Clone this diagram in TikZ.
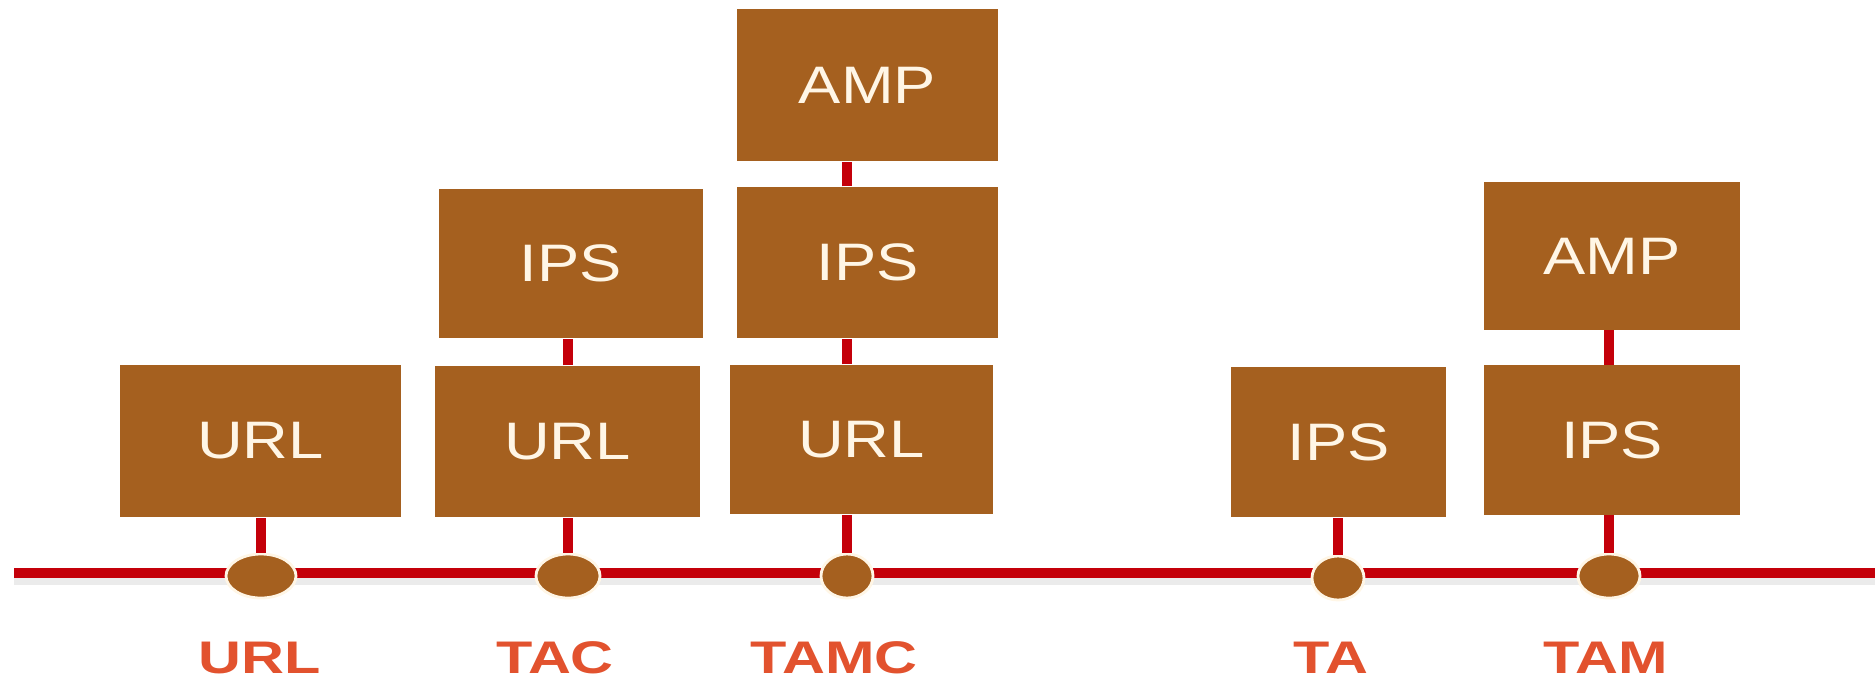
\documentclass[tikz,border=0pt]{standalone}
\usepackage{fontspec}
\usepackage{graphicx}
\usetikzlibrary{shapes.geometric}
\setmainfont{Liberation Sans}
\newcommand{\wideby}[2]{\scalebox{#1}[1]{#2}}
\definecolor{boxbrown}{RGB}{165,96,31}
\definecolor{busred}{RGB}{196,0,10}
\definecolor{segred}{RGB}{226,82,46}
\definecolor{cream}{RGB}{255,246,230}

\begin{document}
\begin{tikzpicture}[x=0.01cm,y=-0.01cm,
    blk/.style={fill=boxbrown,text=cream,inner sep=0pt,font=\fontsize{15}{18}\selectfont},
    tapdot/.style={ellipse,fill=boxbrown,draw=cream,line width=0.8pt,inner sep=0pt,minimum height=0.44cm},
    seglabel/.style={text=segred,font=\bfseries\fontsize{13}{16}\selectfont},
    bus/.style={busred,line width=2.6pt},
    link/.style={busred,line width=3pt}]
        \useasboundingbox (0,0) rectangle (1875,681);

        % the bus
        \coordinate (busL) at (14,573);
        \coordinate (busR) at (1875,573);
        \draw[black!8,line width=2pt] ([yshift=-2.5pt]busL) -- ([yshift=-2.5pt]busR);
        \draw[bus] (busL) -- (busR);

        % boxes
        \node[blk,minimum width=2.81cm,minimum height=1.52cm] (u1) at (260.5,441) {\wideby{1.2}{URL}};

        \node[blk,minimum width=2.65cm,minimum height=1.51cm] (u2) at (567.5,441.5) {\wideby{1.2}{URL}};
        \node[blk,minimum width=2.64cm,minimum height=1.49cm] (i2) at (571,263.5) {\wideby{1.2}{IPS}};

        \node[blk,minimum width=2.63cm,minimum height=1.49cm] (u3) at (861.5,439.5) {\wideby{1.2}{URL}};
        \node[blk,minimum width=2.61cm,minimum height=1.51cm] (i3) at (867.5,262.5) {\wideby{1.2}{IPS}};
        \node[blk,minimum width=2.61cm,minimum height=1.52cm] (a3) at (867.5,85) {\wideby{1.2}{AMP}};

        \node[blk,minimum width=2.14cm,minimum height=1.50cm] (i4) at (1338.5,442) {\wideby{1.2}{IPS}};

        \node[blk,minimum width=2.55cm,minimum height=1.49cm] (i5) at (1612,440) {\wideby{1.2}{IPS}};
        \node[blk,minimum width=2.55cm,minimum height=1.47cm] (a5) at (1612,256) {\wideby{1.2}{AMP}};

        % taps on the bus
        \node[tapdot,minimum width=0.70cm] (d1) at (261,576) {};
        \node[tapdot,minimum width=0.64cm] (d2) at (568,576) {};
        \node[tapdot,minimum width=0.52cm] (d3) at (847,576) {};
        \node[tapdot,minimum width=0.52cm] (d4) at (1338,578) {};
        \node[tapdot,minimum width=0.62cm] (d5) at (1609,576) {};

        \draw[link] (d1.north) -- (d1.north |- u1.south);
        \draw[link] (d2.north) -- (d2.north |- u2.south);
        \draw[link] (u2.north -| d2) -- (i2.south -| d2);
        \draw[link] (d3.north) -- (d3.north |- u3.south);
        \draw[link] (u3.north -| d3) -- (i3.south -| d3);
        \draw[link] (i3.north -| d3) -- (a3.south -| d3);
        \draw[link] (d4.north) -- (d4.north |- i4.south);
        \draw[link] (d5.north) -- (d5.north |- i5.south);
        \draw[link] (i5.north -| d5) -- (a5.south -| d5);

        % names of the combinations
        \node[seglabel] (l1) at (260,658) {\wideby{1.3}{URL}};
        \node[seglabel] (l2) at (555,658) {\wideby{1.3}{TAC}};
        \node[seglabel] (l3) at (834,658) {\wideby{1.3}{TAMC}};
        \node[seglabel] (l4) at (1331,658) {\wideby{1.3}{TA}};
        \node[seglabel] (l5) at (1606,658) {\wideby{1.3}{TAM}};
\end{tikzpicture}
\end{document}
